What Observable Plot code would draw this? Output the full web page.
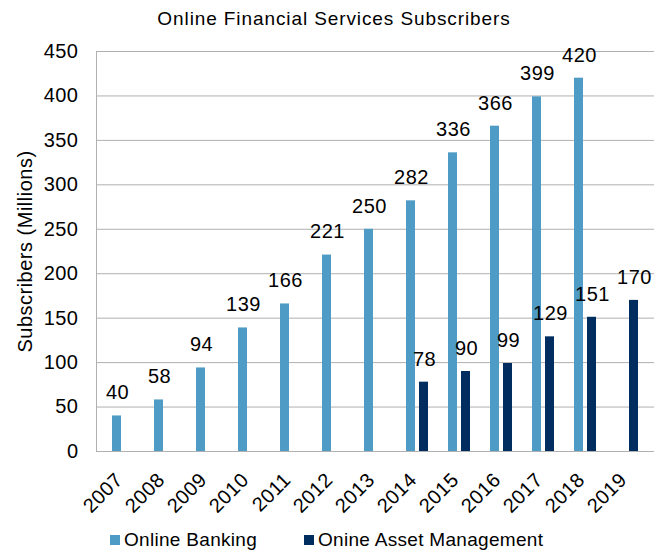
<!DOCTYPE html>
<html>
<head>
<meta charset="utf-8">
<script src="https://cdn.jsdelivr.net/npm/d3@7"></script>
<script src="https://cdn.jsdelivr.net/npm/@observablehq/plot@0.6"></script>
<style>
  html, body { margin: 0; padding: 0; background: #fff; }
  body { width: 668px; height: 552px; position: relative; overflow: hidden;
         font-family: "Liberation Sans", Arial, sans-serif; color: #000; }
  #title { position: absolute; left: 0; top: 0; width: 668px; text-align: center;
           font-size: 19px; letter-spacing: 0.9px; line-height: 19px; padding-top: 9px; }
  #chart { position: absolute; left: 0; top: 36px; }
  #legend { position: absolute; left: 0; top: 528px; width: 668px; height: 24px;
            font-size: 19px; letter-spacing: 0.3px; }
  .item { position: absolute; top: 0; display: flex; align-items: center; height: 24px; }
  .swatch { width: 10px; height: 10px; margin-right: 4px; }
</style>
</head>
<body>
<div id="title"></div>
<div id="chart"></div>
<div id="legend"></div>
<script>
const titleText = "Online Financial Services Subscribers";
const yLabel = "Subscribers (Millions)";
const years = ["2007","2008","2009","2010","2011","2012","2013","2014","2015","2016","2017","2018","2019"];
const onlineBanking = [40, 58, 94, 139, 166, 221, 250, 282, 336, 366, 399, 420, null];
const assetManagement = [null, null, null, null, null, null, null, 78, 90, 99, 129, 151, 170];
const seriesNames = ["Online Banking", "Onine Asset Management"];
const seriesColors = ["#4e9bc5", "#002d5f"];
const yTicks = [0, 50, 100, 150, 200, 250, 300, 350, 400, 450];

const bankRows = years.map((year, i) => ({year, value: onlineBanking[i]})).filter(d => d.value != null);
const assetRows = years.map((year, i) => ({year, value: assetManagement[i]})).filter(d => d.value != null);

document.getElementById("title").textContent = titleText;

const chart = Plot.plot({
  width: 668,
  height: 492,
  marginTop: 15,
  marginBottom: 77,
  marginLeft: 96,
  marginRight: 14,
  style: {
    fontFamily: "'Liberation Sans', Arial, sans-serif",
    fontSize: "20px",
    letterSpacing: "0.5px",
    color: "#000",
    background: "#fff",
    overflow: "visible"
  },
  x: {domain: years, padding: 0, label: null},
  y: {domain: [0, 450], label: null},
  marks: [
    Plot.gridY(yTicks, {stroke: "#b0b0b0", strokeOpacity: 1, strokeWidth: 1}),
    Plot.frame({anchor: "left", stroke: "#b0b0b0"}),
    Plot.barY(bankRows, {x: "year", y: "value", fill: seriesColors[0], insetLeft: 10, insetRight: 23}),
    Plot.barY(assetRows, {x: "year", y: "value", fill: seriesColors[1], insetLeft: 23, insetRight: 10}),
    Plot.text(bankRows, {x: "year", y: "value", text: d => String(d.value), dx: -6, dy: -23, fontSize: 20, fill: "#000"}),
    Plot.text(assetRows, {x: "year", y: "value", text: d => String(d.value), dx: 7, dy: -23, fontSize: 20, fill: "#000"}),
    Plot.axisY(yTicks, {tickSize: 0, tickPadding: 18, fontSize: 20, label: null}),
    Plot.axisY({tickSize: 0, ticks: [], label: yLabel, labelAnchor: "center", labelOffset: 79, labelArrow: "none", dy: -9, fontSize: 20, style: {letterSpacing: "0.9px"}}),
    Plot.axisX({tickSize: 0, tickRotate: -45, tickPadding: 21, dx: -4, dy: 4, fontSize: 20, label: null})
  ]
});
document.getElementById("chart").appendChild(chart);

const legend = document.getElementById("legend");
const lefts = [110, 304];
seriesNames.forEach((name, i) => {
  const item = document.createElement("div");
  item.className = "item";
  item.style.left = lefts[i] + "px";
  const sw = document.createElement("span");
  sw.className = "swatch";
  sw.style.background = seriesColors[i];
  const t = document.createElement("span");
  t.textContent = name;
  item.appendChild(sw);
  item.appendChild(t);
  legend.appendChild(item);
});
</script>
</body>
</html>
